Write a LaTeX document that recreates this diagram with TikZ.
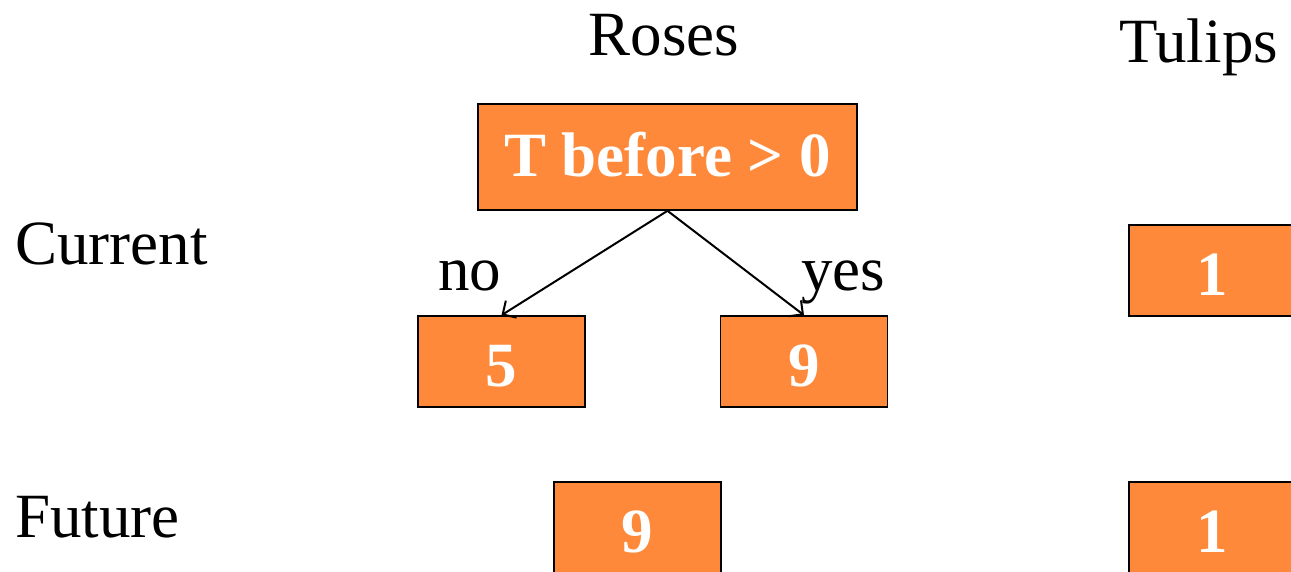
\documentclass[tikz,border=0pt]{standalone}
\usepackage{fontspec}
\setmainfont{Liberation Serif}
\usetikzlibrary{arrows.meta}
\definecolor{boxorange}{RGB}{255,137,58}
\tikzset{
  leaf/.style={draw=black, line width=1.6pt, fill=boxorange, text=white,
    font=\fontsize{63}{63}\selectfont\bfseries,
    minimum width=167pt, minimum height=91pt, inner sep=0pt,
    text height=50pt, text depth=0pt},
  test/.style={leaf, minimum width=379pt, minimum height=106pt,
    text height=38pt},
  lbl/.style={font=\fontsize{63}{63}\selectfont, inner sep=0pt},
  branch/.style={line width=2pt, -{Straight Barb[length=10pt,width=20pt,line width=2pt]}}
}
\begin{document}
\begin{tikzpicture}[x=1pt, y=-1pt]
  \useasboundingbox (0,0) rectangle (1291,571);
  \clip (0,0) rectangle (1291,571);

  % column and row headings
  \node[lbl, anchor=base] (roses) at (664,55) {Roses};
  \node[lbl, anchor=base west] (tulips) at (1119,62) {Tulips};
  \node[lbl, anchor=base west] (current) at (15,264) {Current};
  \node[lbl, anchor=base west] (future) at (15,537) {Future};

  % current tree for roses
  \node[test] (root) at (667.5,157) {T before > 0};
  \node[leaf] (no5) at (501.5,361.5) {5};
  \node[leaf] (yes9) at (804,361.5) {9};
  \draw[branch] (root.south) -- (no5.north);
  \draw[branch] (root.south) -- (yes9.north);
  \node[lbl, anchor=base west] (nolbl) at (438,290) {no};
  \node[lbl, anchor=base west] (yeslbl) at (801,290) {yes};

  % future value for roses
  \node[leaf] (fut9) at (637.5,527.5) {9};

  % tulips
  \node[leaf] (tul1) at (1212.5,270.5) {1};
  \node[leaf] (tul2) at (1212.5,527.5) {1};
\end{tikzpicture}
\end{document}
